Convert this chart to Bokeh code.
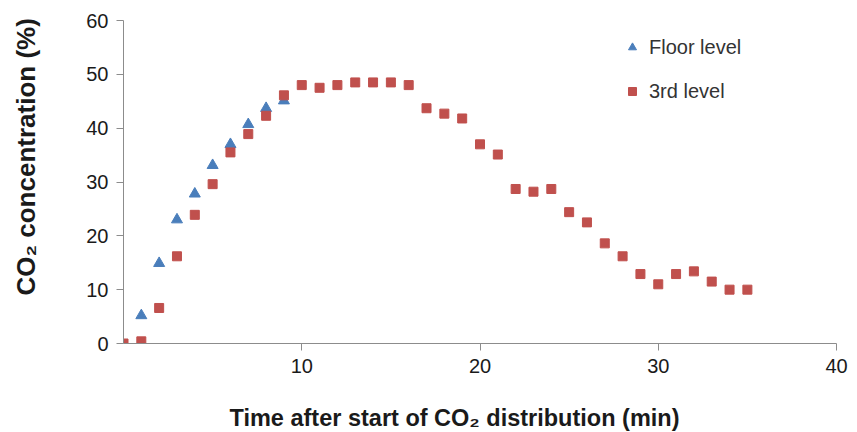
import math
from bokeh.plotting import figure
from bokeh.models import FixedTicker, Legend, LegendItem, LinearAxis, Range1d, Title
from bokeh.embed import file_html
from bokeh.resources import INLINE

# ---- data ----
floor_time = [1, 2, 3, 4, 5, 6, 7, 8, 9]
floor_co2 = [5.2, 14.9, 23.0, 27.8, 33.1, 37.0, 40.7, 43.7, 45.1]

third_time = list(range(0, 36))
third_co2 = [0.0, 0.4, 6.6, 16.2, 23.9, 29.6, 35.5, 38.9, 42.3, 46.1,
             48.0, 47.5, 48.0, 48.5, 48.5, 48.5, 48.0, 43.7, 42.7, 41.8,
             37.0, 35.1, 28.7, 28.2, 28.7, 24.4, 22.5, 18.6, 16.2, 12.9,
             11.0, 12.9, 13.4, 11.5, 10.0, 10.0]

x_ticks = [10, 20, 30, 40]
y_ticks = [0, 10, 20, 30, 40, 50, 60]

series_names = ["Floor level", "3rd level"]
x_title = "Time after start of CO\u2082 distribution (min)"
y_title = "CO\u2082 concentration (%)"

BLUE = "#4a7ebb"
RED = "#c0504d"
FONT = "Liberation Sans"

p = figure(width=857, height=432, output_backend="svg", toolbar_location=None,
           x_range=Range1d(0, 40), y_range=Range1d(0, 60),
           min_border_left=123, min_border_right=21, min_border_top=20,
           min_border_bottom=89)
p.outline_line_color = None
p.grid.visible = False
p.background_fill_color = "white"
p.border_fill_color = "white"

r_floor = p.scatter(floor_time, floor_co2, marker="triangle", size=11,
                    fill_color=BLUE, line_color=BLUE)
r_third = p.scatter(third_time, third_co2, marker="square", size=9,
                    fill_color=RED, line_color=RED)

for ax, ticks in ((p.xaxis[0], x_ticks), (p.yaxis[0], y_ticks)):
    ax.ticker = FixedTicker(ticks=ticks)
    ax.minor_tick_line_color = None
    ax.major_tick_in = 0
    ax.major_tick_out = 7
    ax.axis_line_color = "#8c8c8c"
    ax.major_tick_line_color = "#8c8c8c"
    ax.major_label_text_font = FONT
    ax.major_label_text_font_size = "20px"
    ax.major_label_text_color = "#1a1a1a"
    ax.major_label_standoff = 8


def spacer(gap):
    # blank axis (white tick on white) that only reserves a gap
    return LinearAxis(ticker=FixedTicker(ticks=[0]), axis_line_color=None,
                      major_tick_line_color="white", minor_tick_line_color=None,
                      major_tick_in=0, major_tick_out=gap,
                      minor_tick_in=0, minor_tick_out=0,
                      major_label_overrides={0: ""}, major_label_standoff=0,
                      major_label_text_font_size="1px")


p.add_layout(spacer(27), "below")
p.add_layout(Title(text=x_title, align="left", offset=106, standoff=0,
                   text_font=FONT, text_font_size="23.5px", text_font_style="bold",
                   text_color="#1a1a1a"), "below")
p.add_layout(spacer(43), "left")
p.add_layout(Title(text=y_title, align="left", offset=48, standoff=0,
                   text_font=FONT, text_font_size="26px", text_font_style="bold",
                   text_color="#1a1a1a"), "left")

legend = Legend(items=[LegendItem(label=series_names[0], renderers=[r_floor]),
                       LegendItem(label=series_names[1], renderers=[r_third])],
                location=(499, 240), padding=0, margin=0, spacing=20,
                glyph_width=20, glyph_height=24, label_height=24,
                label_standoff=7, border_line_color=None,
                background_fill_alpha=0,
                label_text_font=FONT, label_text_font_size="20px",
                label_text_color="#333333")
p.add_layout(legend)

open("out.html", "w").write(file_html(p, INLINE))
